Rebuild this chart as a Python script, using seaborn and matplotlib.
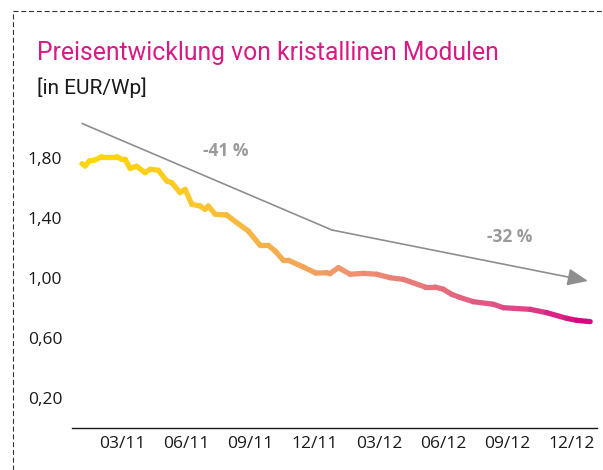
import pandas as pd
import seaborn as sns
import matplotlib.pyplot as plt
from matplotlib.colors import LinearSegmentedColormap
from matplotlib.lines import Line2D

# Monate seit Januar 2011 (0 = 01/11) und Modulpreis in EUR/Wp
monat = [0.13, 0.28, 0.48, 0.75, 1.06, 1.76, 1.99, 2.15, 2.38, 2.69,
         3.08, 3.31, 3.70, 4.09, 4.33, 4.71, 4.95, 5.26, 5.65, 5.88,
         6.03, 6.35, 6.89, 7.36, 7.90, 8.45, 8.83, 9.15, 9.53, 9.77,
         10.47, 11.05, 11.56, 11.71, 12.10, 12.65, 13.27, 13.89, 14.51, 15.13,
         16.15, 16.61, 17.00, 17.39, 17.78, 18.40, 19.33, 19.80, 21.05, 21.82,
         22.76, 23.22, 23.85]
preis = [1.762, 1.747, 1.780, 1.787, 1.809, 1.809, 1.791, 1.791, 1.731, 1.745,
         1.702, 1.725, 1.718, 1.647, 1.635, 1.569, 1.591, 1.491, 1.480, 1.458,
         1.480, 1.425, 1.420, 1.369, 1.313, 1.218, 1.218, 1.180, 1.118, 1.118,
         1.073, 1.033, 1.035, 1.029, 1.069, 1.025, 1.031, 1.025, 1.002, 0.991,
         0.940, 0.940, 0.925, 0.891, 0.870, 0.842, 0.825, 0.802, 0.791, 0.769,
         0.731, 0.718, 0.709]

x_ticks = [2, 5, 8, 11, 14, 17, 20, 23]
x_labels = ['03/11', '06/11', '09/11', '12/11', '03/12', '06/12', '09/12', '12/12']
y_ticks = [0.2, 0.6, 1.0, 1.4, 1.8]
y_labels = ['0,20', '0,60', '1,00', '1,40', '1,80']

# Trendpfeil und Beschriftungen
trend_x = [0.14, 11.8, 23.75]
trend_y = [2.03, 1.32, 0.98]
trend_text = ['-41 %', '-32 %']
text_x = [6.86, 20.1]
text_y = [1.85, 1.27]

sns.set_theme(style='white')
plt.rcParams['font.family'] = ['Open Sans', 'DejaVu Sans']

fig = plt.figure(figsize=(6.03, 4.70), dpi=100)
ax = fig.add_axes([72 / 603, 42 / 470, 525 / 603, 330 / 470])

verlauf = LinearSegmentedColormap.from_list('verlauf', [
    (0.0, '#ffd800'), (0.22, '#fbc82a'), (0.42, '#f3a856'), (0.55, '#ee9070'),
    (0.72, '#e46c7e'), (0.88, '#dc4288'), (1.0, '#d5007f')])

# jedes Teilstück einzeln, damit die Farbe entlang der Linie wechselt
rows = []
for i in range(len(monat) - 1):
    for j in (i, i + 1):
        rows.append({'seg': i, 'monat': monat[j], 'preis': preis[j]})
df = pd.DataFrame(rows)
m0, m1 = monat[0], monat[-1]
farben = {i: verlauf(((monat[i] + monat[i + 1]) / 2 - m0) / (m1 - m0))
          for i in range(len(monat) - 1)}
sns.lineplot(data=df, x='monat', y='preis', hue='seg', palette=farben,
             legend=False, lw=3.8, solid_capstyle='round', ax=ax)

grau = '#8e8e8e'
ax.plot(trend_x[:2], trend_y[:2], color=grau, lw=1.2)
ax.annotate('', xy=(trend_x[2], trend_y[2]), xytext=(trend_x[1], trend_y[1]),
            arrowprops=dict(arrowstyle='-|>,head_length=0.62,head_width=0.26',
                            color=grau, lw=1.2, mutation_scale=20,
                            shrinkA=0, shrinkB=0))
for t, tx, ty in zip(trend_text, text_x, text_y):
    ax.text(tx, ty, t, ha='center', va='center', fontsize=12.5,
            fontweight='bold', color='#9a9a9a')

ax.set_xlim(-0.33, 24.17)
ax.set_ylim(0, 2.2)
ax.set_xticks(x_ticks)
ax.set_xticklabels(x_labels)
ax.set_yticks(y_ticks)
ax.set_yticklabels(y_labels)
ax.set_xlabel('')
ax.set_ylabel('')
ax.tick_params(axis='x', length=0, pad=6, labelsize=12.5, labelcolor='#1a1a1a')
ax.tick_params(axis='y', length=0, pad=7, labelsize=12.5, labelcolor='#1a1a1a')
for s in ['left', 'right', 'top']:
    ax.spines[s].set_visible(False)
ax.spines['bottom'].set_color('#1a1a1a')
ax.spines['bottom'].set_linewidth(1.0)

fig.text(37 / 603, 1 - 60 / 470, 'Preisentwicklung von kristallinen Modulen',
         color='#d81b84', fontsize=17.8, family='Roboto', va='baseline')
fig.text(37 / 603, 1 - 94 / 470, '[in EUR/Wp]', color='#1a1a1a',
         fontsize=15, family='Roboto', va='baseline')

# gestrichelter Rahmen oben und links
fig.add_artist(Line2D([13 / 603, 1], [1 - 11 / 470, 1 - 11 / 470],
                      transform=fig.transFigure, color='#333333', lw=0.8,
                      dashes=(4.5, 2.5)))
fig.add_artist(Line2D([13 / 603, 13 / 603], [0, 1 - 11 / 470],
                      transform=fig.transFigure, color='#333333', lw=0.8,
                      dashes=(4.5, 2.5)))

fig.savefig('out.png', dpi=100)
